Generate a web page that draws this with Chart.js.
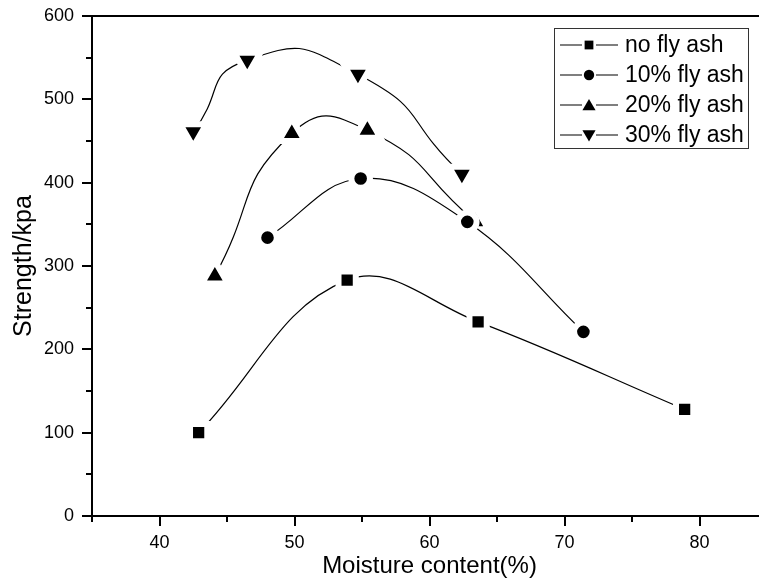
<!DOCTYPE html>
<html>
<head>
<meta charset="utf-8">
<title>Strength vs moisture content</title>
<script src="https://cdn.jsdelivr.net/npm/chart.js@4.4.1/dist/chart.umd.min.js"></script>
<style>
  html, body { margin: 0; padding: 0; background: #fff; overflow: hidden; }
  #wrap { width: 759px; height: 584px; overflow: hidden; }
  canvas { display: block; }
</style>
</head>
<body>
<div id="wrap"><canvas id="strengthChart" width="772" height="584"></canvas></div>
<script>
// Axis ticks
const xTicks = [40, 50, 60, 70, 80];
const xMinorTicks = [35, 45, 55, 65, 75, 85];
const yTicks = [0, 100, 200, 300, 400, 500, 600];
const yMinorTicks = [50, 150, 250, 350, 450, 550];

// Series: moisture content (%) and strength (kPa)
const seriesLabels = ['no fly ash', '10% fly ash', '20% fly ash', '30% fly ash'];
const moistureNone = [42.9, 53.9, 63.6, 78.9];
const strengthNone = [100, 283, 233, 128];
const moisture10 = [48.0, 54.9, 62.8, 71.4];
const strength10 = [334, 405, 353, 221];
const moisture20 = [44.1, 49.8, 55.4, 63.4];
const strength20 = [288, 459, 463, 353];
const moisture30 = [42.5, 46.5, 54.7, 62.4];
const strength30 = [461, 547, 530, 410];

const FONT = '"Liberation Sans", Arial, sans-serif';

function toPoints(xs, ys) {
  return xs.map((x, i) => ({ x: x, y: ys[i] }));
}

// marker look shared by the plot and the legend
const markers = [
  { pointStyle: 'rect', rotation: 0, radius: 12.2, legendRadius: 6.2 },
  { pointStyle: 'circle', rotation: 0, radius: 9.3, legendRadius: 5.2 },
  { pointStyle: 'triangle', rotation: 0, radius: 15, legendRadius: 7.6 },
  { pointStyle: 'triangle', rotation: 180, radius: 15, legendRadius: 7.6 }
];
const tensions = [0.4, 0.4, 0.55, 0.6];

const seriesData = [
  toPoints(moistureNone, strengthNone),
  toPoints(moisture10, strength10),
  toPoints(moisture20, strength20),
  toPoints(moisture30, strength30)
];

const datasets = seriesData.map((pts, i) => ({
  label: seriesLabels[i],
  data: pts,
  borderColor: '#000',
  borderWidth: 1.2,
  backgroundColor: '#000',
  fill: false,
  tension: tensions[i],
  pointStyle: markers[i].pointStyle,
  pointRotation: markers[i].rotation,
  pointRadius: markers[i].radius,
  pointHoverRadius: markers[i].radius,
  pointBackgroundColor: '#000',
  // white rim leaves a small gap between the curve and the symbol
  pointBorderColor: '#fff',
  pointBorderWidth: 6
}));

// outward tick marks, top frame line and boxed legend
const framePlugin = {
  id: 'frame',
  afterDraw(chart) {
    const ctx = chart.ctx;
    const area = chart.chartArea;
    const xs = chart.scales.x;
    const ys = chart.scales.y;
    ctx.save();
    ctx.strokeStyle = '#000';
    ctx.lineWidth = 2;
    ctx.beginPath();
    ctx.moveTo(area.left - 1, area.top);
    ctx.lineTo(area.right, area.top);
    ctx.lineTo(area.right, area.bottom);
    ctx.stroke();

    ctx.beginPath();
    yTicks.forEach(v => {
      const y = Math.round(ys.getPixelForValue(v));
      ctx.moveTo(area.left, y);
      ctx.lineTo(area.left - 10, y);
    });
    yMinorTicks.forEach(v => {
      const y = Math.round(ys.getPixelForValue(v));
      ctx.moveTo(area.left, y);
      ctx.lineTo(area.left - 6, y);
    });
    xTicks.forEach(v => {
      const x = Math.round(xs.getPixelForValue(v));
      ctx.moveTo(x, area.bottom);
      ctx.lineTo(x, area.bottom + 10);
    });
    xMinorTicks.forEach(v => {
      const x = Math.round(xs.getPixelForValue(v));
      ctx.moveTo(x, area.bottom);
      ctx.lineTo(x, area.bottom + 6);
    });
    ctx.stroke();

    // legend box
    const box = { left: 554.5, top: 28.5, width: 194, height: 120 };
    ctx.lineWidth = 1;
    ctx.strokeStyle = '#333';
    ctx.strokeRect(box.left, box.top, box.width, box.height);
    ctx.font = '23px ' + FONT;
    ctx.textBaseline = 'middle';
    ctx.textAlign = 'left';
    ctx.fillStyle = '#000';
    chart.data.datasets.forEach((ds, i) => {
      const y = 45 + i * 30;
      ctx.lineWidth = 1.2;
      ctx.strokeStyle = '#000';
      ctx.beginPath();
      ctx.moveTo(560, y);
      ctx.lineTo(582, y);
      ctx.moveTo(596, y);
      ctx.lineTo(618, y);
      ctx.stroke();
      Chart.helpers.drawPoint(ctx, {
        pointStyle: markers[i].pointStyle,
        rotation: markers[i].rotation,
        radius: markers[i].legendRadius,
        borderWidth: 0
      }, 589, y + (markers[i].pointStyle === 'triangle' ? (markers[i].rotation ? -1 : 1.5) : 0));
      ctx.fillText(ds.label, 625, y + 1);
    });
    ctx.restore();
  }
};

// invisible tick marks only push the labels away from the axis line
const hiddenGrid = (len) => ({
  display: true,
  drawOnChartArea: false,
  drawTicks: true,
  tickLength: len,
  tickColor: 'rgba(0,0,0,0)'
});

// fixed axis box sizes, and no extra room for label overhang
function fixScale(size) {
  return scale => {
    if (scale.isHorizontal()) scale.height = size; else scale.width = size;
    scale.paddingTop = 0;
    scale.paddingBottom = 0;
    scale.paddingLeft = 0;
    scale.paddingRight = 0;
  };
}

new Chart(document.getElementById('strengthChart'), {
  type: 'line',
  data: { datasets: datasets },
  plugins: [framePlugin],
  options: {
    responsive: false,
    animation: false,
    devicePixelRatio: 1,
    layout: { autoPadding: false, padding: { top: 16, right: 5, left: 0, bottom: 0 } },
    plugins: {
      legend: { display: false },
      tooltip: { enabled: false }
    },
    scales: {
      x: {
        type: 'linear',
        min: 35,
        max: 85,
        afterBuildTicks: scale => { scale.ticks = xTicks.map(v => ({ value: v })); },
        afterFit: fixScale(68),
        grid: hiddenGrid(16),
        border: { display: true, color: '#000', width: 2 },
        ticks: { color: '#000', padding: 0, font: { family: FONT, size: 18 }, maxRotation: 0 },
        title: {
          display: true,
          text: 'Moisture content(%)',
          color: '#000',
          font: { family: FONT, size: 24 },
          padding: { top: 0, bottom: 3 }
        }
      },
      y: {
        min: 0,
        max: 600,
        afterBuildTicks: scale => { scale.ticks = yTicks.map(v => ({ value: v })); },
        afterFit: fixScale(92),
        grid: hiddenGrid(18),
        border: { display: true, color: '#000', width: 2 },
        ticks: { color: '#000', padding: 0, font: { family: FONT, size: 18 } },
        title: {
          display: true,
          text: 'Strength/kpa',
          color: '#000',
          font: { family: FONT, size: 25 },
          padding: { top: 9, bottom: 0 }
        }
      }
    }
  }
});
</script>
</body>
</html>
